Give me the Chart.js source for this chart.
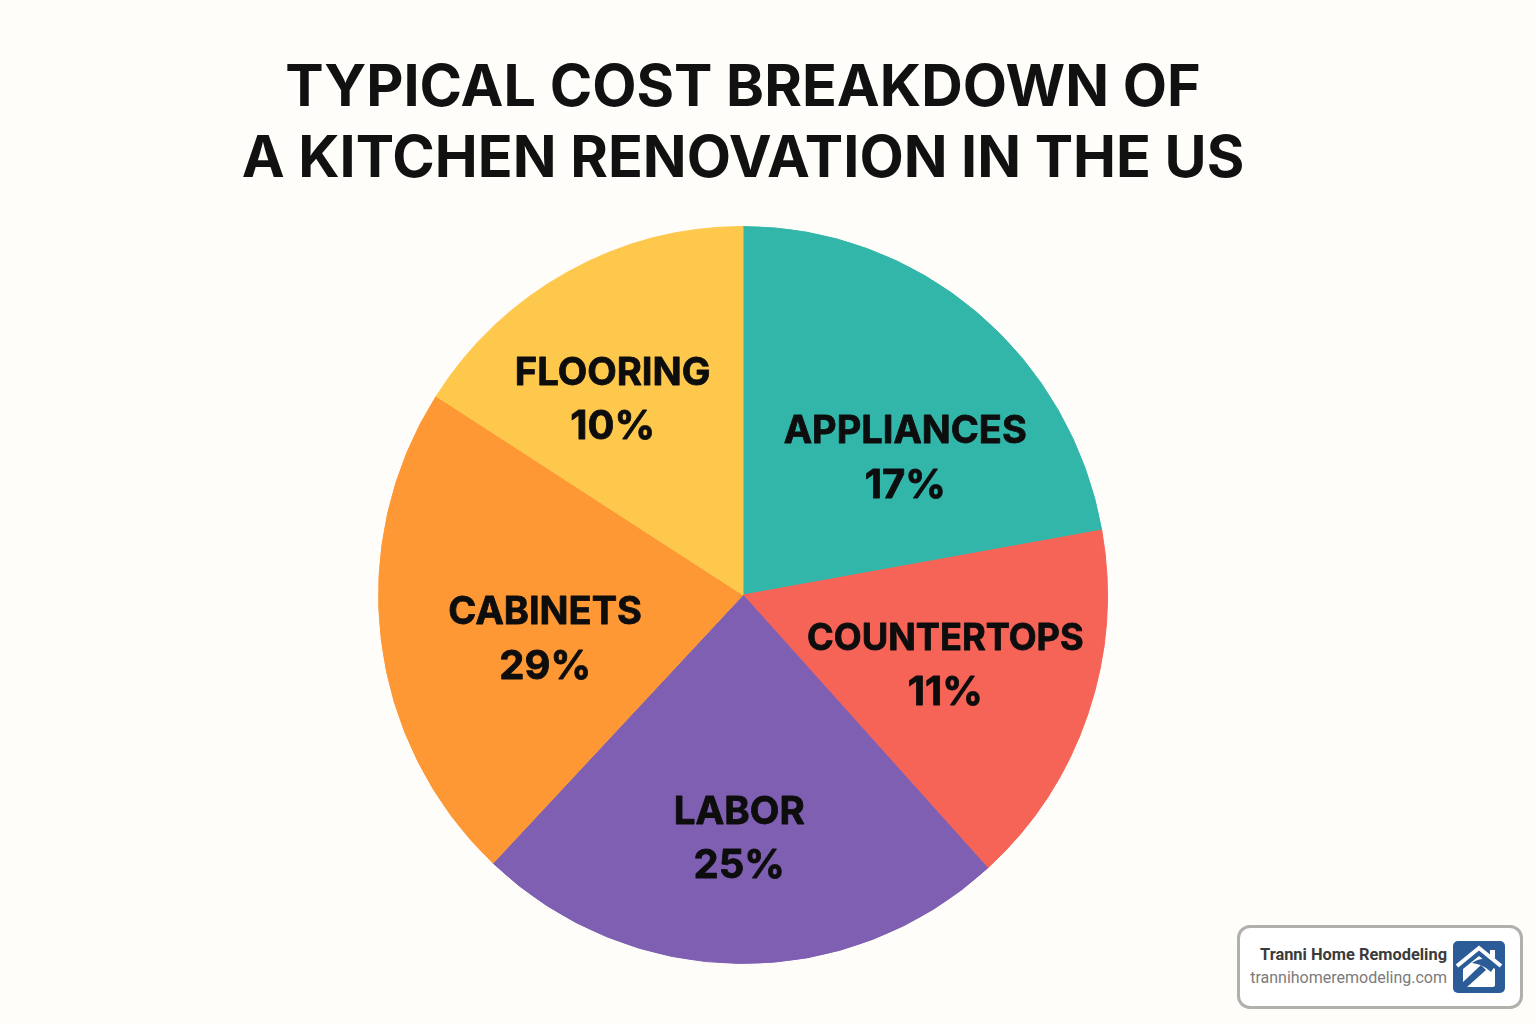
<!DOCTYPE html>
<html>
<head>
<meta charset="utf-8">
<title>Kitchen renovation cost breakdown</title>
<script src="https://cdn.jsdelivr.net/npm/chart.js@4"></script>
<style>
    html, body { margin: 0; padding: 0; background: #fffdf9; }
    #wrap { position: relative; width: 1536px; height: 1024px; overflow: hidden; }
    #badge {
        position: absolute; left: 1237px; top: 925px; width: 280px; height: 78px;
        background: #fff; border: 3px solid #b1b0ac; border-radius: 13px;
        font-family: Roboto, sans-serif; text-align: right;
    }
    #badge .name { position: absolute; right: 73px; top: 17px; font-size: 16.4px; font-weight: 700; color: #3b3b3b; white-space: nowrap; }
    #badge .site { position: absolute; right: 73px; top: 40px; font-size: 16px; color: #7b7b7b; white-space: nowrap; }
    #badge svg { position: absolute; left: 213px; top: 13px; }
</style>
</head>
<body>
<div id="wrap">
    <canvas id="costPie" width="1536" height="1024"></canvas>
    <div id="badge">
        <div class="name">Tranni Home Remodeling</div>
        <div class="site">trannihomeremodeling.com</div>
        <svg width="52" height="52" viewBox="0 0 52 52">
            <rect width="52" height="52" rx="5" fill="#2b5c97"/>
            <path d="M10 28 L26 15 L42 28 V44 Q42 46 40 46 H10 Z" fill="#fff"/>
            <path d="M4 25 L26 7 L48 25" fill="none" stroke="#fff" stroke-width="4"/>
            <rect x="37" y="9" width="5" height="8" fill="#fff"/>
            <path d="M10 41 L28 24 L33 29 L14 46 L10 46 Z" fill="#2b5c97"/>
            <path d="M19 22 Q29 15 37 20 L42 25 L38 31 L33 27 Q27 23 19 22 Z" fill="#2b5c97"/>
        </svg>
    </div>
</div>
<script>
// Slice labels and printed percentages
const categories = ["APPLIANCES", "COUNTERTOPS", "LABOR", "CABINETS", "FLOORING"];
const printedPercents = [17, 11, 25, 29, 10];
// The drawn slices do not follow the printed percentages, so these are the angles
const sliceDegrees = [79.85, 57.95, 85.5, 79.36, 57.34];
const sliceColors = ["#31b6a9", "#f66457", "#7e5fb2", "#fd9835", "#fec84d"];
const titleLines = ["TYPICAL COST BREAKDOWN OF", "A KITCHEN RENOVATION IN THE US"];
// Nudge of each label from the slice's own centre point, and its font size
const labelNudges = [[44, 5], [28, 12], [-2, 60], [-15, 22], [-42, -33]];
const labelSizes = [38, 36.2, 38.5, 38, 38.3];
// The reference pie is a little narrower than it is tall
const pieSquash = 0.989;

const sliceLabels = {
    id: 'sliceLabels',
    // Squash the pie horizontally around its centre while the arcs draw
    beforeDatasetsDraw(chart) {
        const arc = chart.getDatasetMeta(0).data[0];
        chart.ctx.save();
        chart.ctx.translate(arc.x, 0);
        chart.ctx.scale(pieSquash, 1);
        chart.ctx.translate(-arc.x, 0);
    },
    // Draws name and percentage on each slice
    afterDatasetsDraw(chart) {
        const ctx = chart.ctx;
        ctx.restore();
        ctx.save();
        ctx.fillStyle = '#0d0d0d';
        ctx.strokeStyle = '#0d0d0d';
        ctx.lineWidth = 0.8;
        ctx.lineJoin = 'round';
        ctx.textAlign = 'center';
        ctx.textBaseline = 'middle';
        chart.getDatasetMeta(0).data.forEach(function(arc, i) {
            const pos = arc.tooltipPosition();
            const x = pos.x + labelNudges[i][0];
            const y = pos.y + labelNudges[i][1];
            ctx.font = '700 ' + labelSizes[i] + 'px Inter';
            ctx.fillText(categories[i], x, y - 27);
            ctx.strokeText(categories[i], x, y - 27);
            ctx.font = '700 40px Inter';
            ctx.fillText(printedPercents[i] + '%', x, y + 27);
            ctx.strokeText(printedPercents[i] + '%', x, y + 27);
        });
        ctx.restore();
    }
};

new Chart(document.getElementById('costPie'), {
    type: 'pie',
    data: {
        labels: categories,
        datasets: [{
            data: sliceDegrees,
            backgroundColor: sliceColors,
            borderColor: sliceColors,
            borderWidth: 1
        }]
    },
    options: {
        responsive: false,
        animation: false,
        layout: { padding: { right: 50, bottom: 60 } },
        plugins: {
            legend: { display: false },
            tooltip: { enabled: false },
            title: {
                display: true,
                text: titleLines,
                color: '#111111',
                font: { family: 'Inter', size: 57.5, weight: '700', lineHeight: 1.235 },
                padding: { top: 53, bottom: 31 }
            }
        }
    },
    plugins: [sliceLabels]
});
</script>
</body>
</html>
